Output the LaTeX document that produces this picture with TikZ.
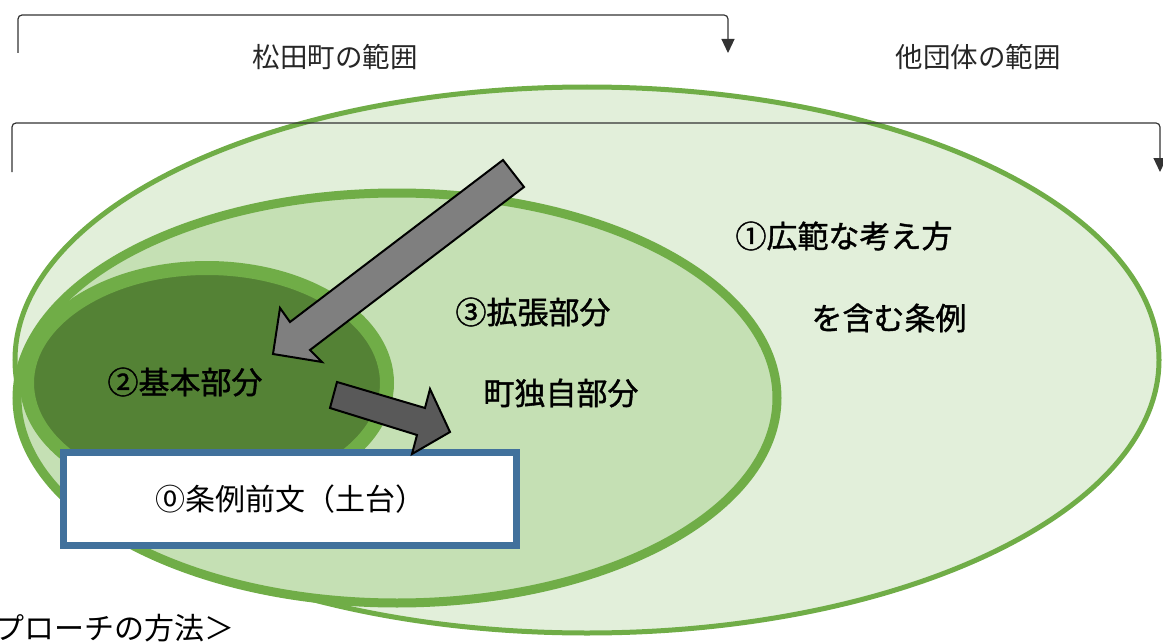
\documentclass[tikz,border=0pt]{standalone}
\usepackage{fontspec}
\setmainfont{Noto Sans CJK JP}
\newfontfamily\labelfont[FakeBold=1.2]{Noto Sans CJK JP}
\usetikzlibrary{arrows.meta}

\definecolor{leafline}{HTML}{70AD47}
\definecolor{leafpale}{HTML}{E2EFDA}
\definecolor{leafmid}{HTML}{C5E0B4}
\definecolor{leafdark}{HTML}{548235}
\definecolor{boxblue}{HTML}{41719C}
\definecolor{arrowgray}{HTML}{7F7F7F}
\definecolor{arrowdark}{HTML}{595959}

\tikzset{
  range line/.style={draw=black!80, line width=1.2pt, rounded corners=4pt, -{Triangle[width=13pt,length=14pt]}},
  range text/.style={font=\fontsize{27.5}{27.5}\selectfont, inner sep=0pt, text=black!85},
  label text/.style={font=\fontsize{31}{31}\labelfont, inner sep=0pt},
  block arrow/.style={draw=black, line width=2pt, line join=miter},
  base box/.style={draw=boxblue, line width=7pt, fill=white, inner sep=0pt,
    minimum width=453pt, minimum height=93pt, font=\fontsize{30}{30}\selectfont}
}

\begin{document}
\begin{tikzpicture}[x=1pt,y=-1pt]
\useasboundingbox (0,0) rectangle (1163,642);

% the three areas
\draw[fill=leafpale, draw=leafline, line width=5pt] (587,360) ellipse [x radius=572, y radius=273];
\draw[fill=leafmid, draw=leafline, line width=9pt] (397,398) ellipse [x radius=380, y radius=205];
\draw[fill=leafdark, draw=leafline, line width=14pt] (207,383) ellipse [x radius=180, y radius=115];

\node[base box] (base) at (290,499) {⓪条例前文（土台）};

% block arrows
\filldraw[block arrow, fill=arrowgray] (503,160) -- (524,187) -- (310,350) -- (322,362)
  -- (273,354) -- (280,308) -- (290,322) -- cycle;
\filldraw[block arrow, fill=arrowdark] (337,382) -- (425,408) -- (430,389) -- (450,432)
  -- (412,454) -- (417,435) -- (330,408) -- cycle;

% ranges
\coordinate (town start) at (18,53);
\coordinate (town end) at (728,53);
\coordinate (all start) at (12,172);
\coordinate (all end) at (1160,172);
\draw[range line] (town start) -- ++(0,-38) -| (town end);
\draw[range line] (all start) -- ++(0,-49) -| (all end);

\node[range text] (town) at (335,57) {松田町の範囲};
\node[range text] (others) at (978,57) {他団体の範囲};

\node[label text] (wide) at (844,236) {①広範な考え方};
\node[label text] (wide2) at (889,318) {を含む条例};
\node[label text] (ext) at (533,312) {③拡張部分};
\node[label text] (ext2) at (561,393) {町独自部分};
\node[label text] (basic) at (185,382) {②基本部分};
\node[label text, font=\fontsize{30}{30}\selectfont, anchor=west] (method) at (-6,628) {プローチの方法＞};
\end{tikzpicture}
\end{document}
